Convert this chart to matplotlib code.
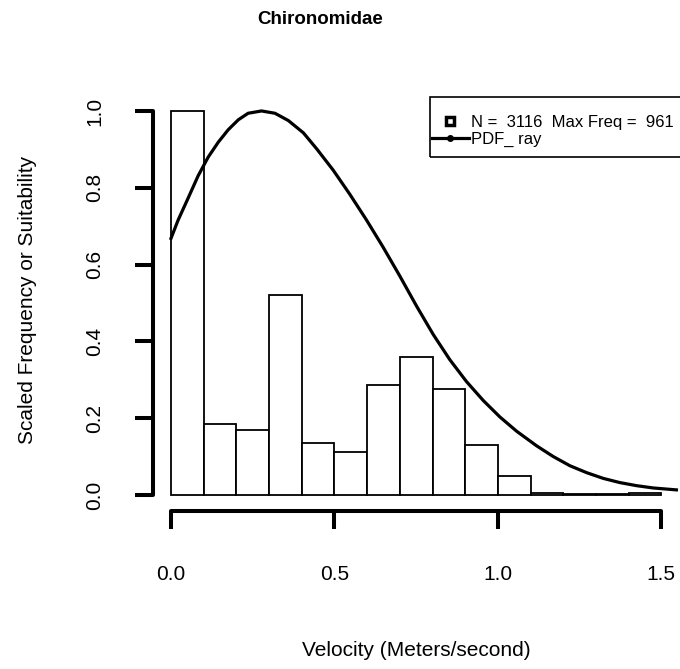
import matplotlib.pyplot as plt
from matplotlib.lines import Line2D
from matplotlib.patches import Rectangle
import numpy as np

plt.rcParams['font.family'] = ['Liberation Sans', 'DejaVu Sans']

# histogram bins (velocity, m/s) and scaled frequencies
bin_left = [0.0, 0.1, 0.2, 0.3, 0.4, 0.5, 0.6, 0.7, 0.8, 0.9, 1.0, 1.1, 1.2, 1.3, 1.4]
bin_width = 0.1
freq = [1.0, 0.185, 0.169, 0.52, 0.135, 0.112, 0.285, 0.358, 0.276, 0.129, 0.05,
        0.006, 0.002, 0.001, 0.004]

# suitability curve
pdf_x = [0.0, 0.022, 0.053, 0.083, 0.114, 0.145, 0.175, 0.206, 0.236, 0.277, 0.318,
         0.359, 0.405, 0.446, 0.496, 0.547, 0.598, 0.649, 0.70, 0.751, 0.802,
         0.853, 0.904, 0.955, 1.006, 1.057, 1.118, 1.169, 1.22, 1.271, 1.322,
         1.373, 1.424, 1.475, 1.546]
pdf_y = [0.668, 0.716, 0.774, 0.831, 0.880, 0.919, 0.951, 0.977, 0.994, 1.0, 0.994,
         0.975, 0.943, 0.901, 0.846, 0.783, 0.716, 0.645, 0.570, 0.492, 0.418,
         0.352, 0.295, 0.246, 0.203, 0.166, 0.128, 0.10, 0.076, 0.058, 0.043,
         0.032, 0.024, 0.018, 0.013]

n_obs = 3116
max_freq = 961

fig = plt.figure(figsize=(6.8, 6.69), dpi=100)
ax = fig.add_axes([153/680, 158/669, 527/680, 415.4/669])

ax.bar(bin_left, freq, width=bin_width, align='edge', color='white',
       edgecolor='black', linewidth=1.3)
ax.plot(pdf_x, pdf_y, color='black', lw=2.3, solid_joinstyle='round')

ax.set_xlim(-0.055, 1.557)
ax.set_ylim(-0.042, 1.04)

for s in ['top', 'right']:
    ax.spines[s].set_visible(False)
ax.spines['left'].set_bounds(0, 1)
ax.spines['bottom'].set_bounds(0, 1.5)
for s in ['left', 'bottom']:
    ax.spines[s].set_linewidth(2.9)
    ax.spines[s].set_capstyle('round')

ax.set_xticks([0.0, 0.5, 1.0, 1.5])
ax.set_xticklabels(['0.0', '0.5', '1.0', '1.5'])
ax.set_yticks([0.0, 0.2, 0.4, 0.6, 0.8, 1.0])
ax.set_yticklabels(['0.0', '0.2', '0.4', '0.6', '0.8', '1.0'], rotation=90, va='center')
ax.tick_params(axis='x', length=13, width=2.9, labelsize=15, pad=26)
ax.tick_params(axis='y', length=13, width=2.9, labelsize=15, pad=22)

fig.text(416/680, 1 - 650/669, 'Velocity (Meters/second)', ha='center', va='center', fontsize=15)
fig.text(28/680, 1 - 300/669, 'Scaled Frequency or Suitability', ha='center', va='center',
         rotation=90, fontsize=15)
fig.text(320/680, 1 - 20/669, 'Chironomidae', ha='center', va='center', fontsize=13.5,
         fontweight='bold')

# legend box, drawn separately so the padding matches R's legend()
fig.patches.append(Rectangle((430/680, 1 - 157/669), 260/680, 60/669,
                             transform=fig.transFigure, fill=False,
                             edgecolor='black', linewidth=1.2, zorder=5))
handles = [
    Line2D([], [], ls='none', marker='s', ms=6, mfc='white', mec='black', mew=2.5),
    Line2D([], [], color='black', lw=2.3, marker='o', ms=4),
]
labels = ['N =  %d  Max Freq =  %d' % (n_obs, max_freq), 'PDF_ ray']
leg = ax.legend(handles, labels, loc='center left', bbox_to_anchor=(432/680, 1 - 131/669),
                bbox_transform=fig.transFigure, fontsize=12, frameon=False,
                borderaxespad=0, borderpad=0, labelspacing=0.15,
                handlelength=2.2, handletextpad=0.15)

fig.savefig('out.png', dpi=100)
